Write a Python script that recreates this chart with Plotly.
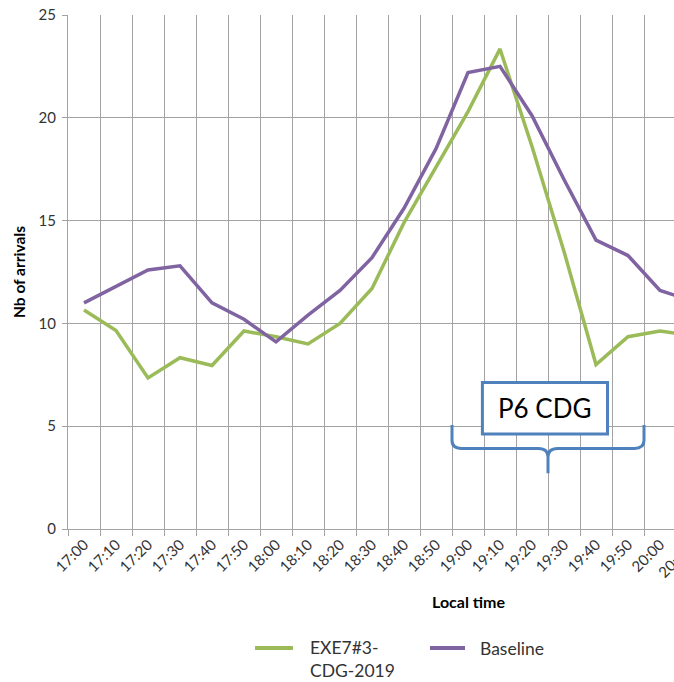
import plotly.graph_objects as go

# Ten-minute arrival slots
times = ["17:00", "17:10", "17:20", "17:30", "17:40", "17:50",
         "18:00", "18:10", "18:20", "18:30", "18:40", "18:50",
         "19:00", "19:10", "19:20", "19:30", "19:40", "19:50",
         "20:00", "20:10"]

# Number of arrivals per slot
exe_values = [10.65, 9.65, 7.35, 8.33, 7.95, 9.63,
              9.35, 9.0, 10.0, 11.7, 14.9, 17.6,
              20.3, 23.35, 18.6, 13.5, 8.0, 9.35,
              9.63, 9.4]
baseline_values = [11.0, 11.8, 12.6, 12.8, 11.0, 10.2,
                   9.1, 10.4, 11.6, 13.2, 15.6, 18.5,
                   22.2, 22.5, 20.1, 17.0, 14.05, 13.3,
                   11.6, 11.1]

y_ticks = [0, 5, 10, 15, 20, 25]

series_names = ["EXE7#3-CDG-2019", "Baseline"]
legend_texts = ["EXE7#3-<br>CDG-2019", "Baseline"]
period_label = "P6 CDG"

# Figure geometry (pixels)
W, H = 674, 682
ML, MR, MT, MB = 68, 0, 15, 153
PW, PH = W - ML - MR, H - MT - MB
SLOT_PX = 32  # width of one category band


def px(xp):
    return (xp - ML) / PW


def py(yp):
    return (H - MB - yp) / PH


GREEN = "#9BBB59"
PURPLE = "#8064A2"
BLUE = "#4F81BD"
GRID = "#A3A3A3"
TEXT = "#333333"
FONT = "Lato"

fig = go.Figure()
fig.add_trace(go.Scatter(x=times, y=exe_values, mode="lines",
                         name=series_names[0], showlegend=False,
                         line=dict(color=GREEN, width=3.5)))
fig.add_trace(go.Scatter(x=times, y=baseline_values, mode="lines",
                         name=series_names[1], showlegend=False,
                         line=dict(color=PURPLE, width=3.5)))

x_end = -0.5 + PW / SLOT_PX

fig.update_layout(
    width=W, height=H,
    margin=dict(l=ML, r=MR, t=MT, b=MB, pad=0),
    paper_bgcolor="white", plot_bgcolor="white",
    font=dict(family=FONT, color=TEXT),
    showlegend=False,
    xaxis=dict(
        type="category", categoryorder="array", categoryarray=times,
        range=[-0.5, x_end], tickson="boundaries",
        showgrid=True, gridcolor=GRID, gridwidth=1,
        showline=True, linecolor=GRID, linewidth=1,
        ticks="outside", ticklen=6, tickcolor=GRID,
        tickangle=-45, tickfont=dict(family=FONT, size=15, color=TEXT),
        fixedrange=True,
    ),
    yaxis=dict(
        range=[0, 25], tickvals=y_ticks,
        showgrid=True, gridcolor=GRID, gridwidth=1,
        showline=True, linecolor=GRID, linewidth=1,
        zeroline=False,
        ticks="outside", ticklen=5, tickcolor=GRID,
        ticklabelstandoff=3,
        tickfont=dict(family=FONT, size=15, color=TEXT),
        title=dict(text="<b>Nb of arrivals</b>", standoff=9,
                   font=dict(family=FONT, size=15.5, color="black")),
        fixedrange=True,
    ),
)

# Axis title for time
fig.add_annotation(x=px(468), y=py(601), xref="paper", yref="paper",
                   text="<b>Local time</b>", showarrow=False,
                   xanchor="center", yanchor="middle",
                   font=dict(family=FONT, size=16, color="black"))

# Last slot label, partly beyond the right edge
fig.add_annotation(x=px(697), y=py(538), xref="paper", yref="paper",
                   text=times[-1], textangle=-45, showarrow=False,
                   xanchor="right", yanchor="top",
                   font=dict(family=FONT, size=15, color=TEXT))

# Period box and brace (category index / data units)
fig.add_shape(type="rect", xref="x", yref="y",
              x0=12.45, x1=16.36, y0=4.62, y1=7.13,
              line=dict(color=BLUE, width=3), fillcolor="white", layer="above")
fig.add_annotation(x=14.4, y=5.875, xref="x", yref="y", text=period_label,
                   showarrow=False, xanchor="center", yanchor="middle",
                   font=dict(family=FONT, size=26, color="black"))
brace = ("M 11.5,5.06 L 11.5,4.3 Q 11.5,3.92 11.8,3.92 L 14.2,3.92 "
         "Q 14.5,3.92 14.5,3.5 L 14.5,2.71 M 14.5,3.5 Q 14.5,3.92 14.8,3.92 "
         "L 17.2,3.92 Q 17.5,3.92 17.5,4.3 L 17.5,5.06")
fig.add_shape(type="path", xref="x", yref="y", path=brace,
              line=dict(color=BLUE, width=3), layer="above")

# Legend drawn beneath the chart
legend_items = [(GREEN, 255, 293, 308, 659, legend_texts[0]),
                (PURPLE, 430, 465, 478, 648, legend_texts[1])]
for color, x0, x1, xt, yt, label in legend_items:
    fig.add_shape(type="line", xref="paper", yref="paper",
                  x0=px(x0), x1=px(x1), y0=py(648), y1=py(648),
                  line=dict(color=color, width=4))
    fig.add_annotation(x=px(xt), y=py(yt), xref="paper", yref="paper",
                       text=label, showarrow=False, align="left",
                       xanchor="left", yanchor="middle",
                       font=dict(family=FONT, size=17.5, color=TEXT))

fig.write_html("out.html")
